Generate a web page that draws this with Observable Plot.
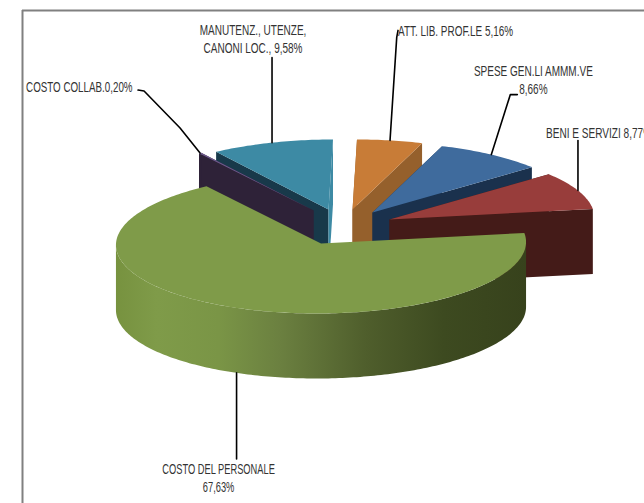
<!DOCTYPE html>
<html>
<head>
<meta charset="utf-8">
<style>
  html, body { margin: 0; padding: 0; background: #fff; }
  svg { display: block; }
</style>
<script src="https://cdn.jsdelivr.net/npm/d3@7"></script>
<script src="https://cdn.jsdelivr.net/npm/@observablehq/plot@0.6"></script>
</head>
<body>
<div id="chart"></div>
<script>
// Cost breakdown, percentage shares, clockwise from twelve o'clock
const names = [
  "ATT. LIB. PROF.LE ",
  "SPESE GEN.LI AMMM.VE\n",
  "BENI E SERVIZI ",
  "COSTO DEL PERSONALE\n",
  "COSTO COLLAB.",
  "MANUTENZ., UTENZE,\nCANONI LOC., "
];
const shares = [5.16, 8.66, 8.77, 67.63, 0.20, 9.58];

// Colours per slice: top face, wall on the closing edge, wall on the opening edge
const topColors = ["#c87c37", "#3f6b9d", "#983d3b", "#7f9b49", "#6f5a8e", "#3d8aa4"];
const endWalls = ["#95602c", "#1a314d", "#441b18", "#37421c", "#2e2238", "#3d8aa4"];
const startWalls = ["#95602c", "#1a314d", "#441b18", "#37421c", "#2e2238", "#18394a"];

// Pie geometry: tilted ellipse with a slight lean, and thickness of the disc
const center = [320.5, 243], rx = 205, ry = 70, lean = 4.5, depth = 65;
// How far each slice is pulled away from the centre
const pull = [[31.5, -34], [51.5, -31], [68.5, -24], [0, 0], [-7.5, -33], [7.5, -34]];

// Label placement relative to the point where each leader meets its slice;
// squeeze narrows the glyphs horizontally to get a condensed face
const labelLayout = [
  {dx: 8, dy: -110, anchor: "start", squeeze: 0.71, leader: [[6.7, -103], [8, -110]]},
  {dx: 42, dy: -75, anchor: "middle", squeeze: 0.715, leader: [[19, -60], [26, -60]]},
  {dx: -32, dy: -58, anchor: "start", squeeze: 0.72, leader: [[0, -50]]},
  {dx: -18, dy: 104, anchor: "middle", squeeze: 0.665, leader: [[0, 86]], onBase: true},
  {dx: -174, dy: -67, anchor: "start", squeeze: 0.7, leader: [[-20, -25], [-56, -62], [-62, -63]]},
  {dx: -19, dy: -104.5, anchor: "middle", squeeze: 0.715, leader: [[0, -85]]}
];

const rad = (deg) => deg * Math.PI / 180;
const percent = (v) => v.toFixed(2).replace(".", ",") + "%";

// Turn the shares into start and end angles
let running = 0;
const slices = shares.map((share, i) => {
  const start = running * 3.6;
  running += share;
  return {i, share, start, end: running * 3.6, apex: [center[0] + pull[i][0], center[1] + pull[i][1]]};
});

const rim = (s, deg, drop = 0) => ({
  x: s.apex[0] + rx * Math.sin(rad(deg)) + lean * Math.cos(rad(deg)),
  y: s.apex[1] - ry * Math.cos(rad(deg)) + drop
});
const arc = (s, a, b, drop = 0) => {
  const n = Math.max(2, Math.ceil(Math.abs(b - a)));
  return d3.range(n + 1).map((k) => rim(s, a + (b - a) * k / n, drop));
};
const apexAt = (s, drop = 0) => ({x: s.apex[0], y: s.apex[1] + drop});
const edgeWall = (s, deg) => [apexAt(s), rim(s, deg), rim(s, deg, depth), apexAt(s, depth)];
const topFace = (s) => [apexAt(s), ...arc(s, s.start, s.end)];

// Only the part of the rim facing the viewer gets an outer wall
const frontFrom = 88.7, frontTo = 268.7;
const outerWall = (s) => {
  const a = Math.max(s.start, frontFrom), b = Math.min(s.end, frontTo);
  return b > a ? [...arc(s, a, b), ...arc(s, b, a, depth)] : null;
};

const poly = (pts, fill) => Plot.line(pts, {x: "x", y: "y", fill, stroke: "none", curve: "linear-closed"});

// Back-to-front painting order
const order = [0, 1, 2, 5, 4, 3];
const faces = order.flatMap((i) => {
  const s = slices[i];
  const out = [];
  if (i !== 3) {
    out.push(poly(edgeWall(s, s.start), startWalls[i]));
    out.push(poly(edgeWall(s, s.end), endWalls[i]));
  }
  const wall = outerWall(s);
  if (wall) out.push(poly(wall, "url(#rimShade)"));
  out.push(poly(topFace(s), topColors[i]));
  return out;
});

// Leaders and labels hang from the middle of each slice's rim
const anchors = slices.map((s) => rim(s, (s.start + s.end) / 2, labelLayout[s.i].onBase ? depth : 0));
const leaders = slices.flatMap((s) => {
  const a = anchors[s.i];
  return [a, ...labelLayout[s.i].leader.map(([dx, dy]) => ({x: a.x + dx, y: a.y + dy}))]
    .map((p) => ({...p, id: s.i}));
});
const labels = slices.map((s) => ({
  text: names[s.i] + percent(s.share),
  x: anchors[s.i].x + labelLayout[s.i].dx,
  y: anchors[s.i].y + labelLayout[s.i].dy,
  anchor: labelLayout[s.i].anchor,
  squeeze: labelLayout[s.i].squeeze
}));

const rimGradient = () => {
  const defs = d3.create("svg:defs");
  const g = defs.append("linearGradient").attr("id", "rimShade");
  [[0, "#77923f"], [0.1, "#7f9b49"], [0.25, "#7a9546"], [0.4, "#6b8040"],
   [0.61, "#4f5e2c"], [0.8, "#3d4a20"], [1, "#37421c"]]
    .forEach(([o, c]) => g.append("stop").attr("offset", o).attr("stop-color", c));
  return defs.node();
};

const chart = Plot.plot({
  width: 644,
  height: 503,
  margin: 0,
  style: {background: "#fff", overflow: "hidden"},
  x: {domain: [0, 644], range: [0, 644], axis: null},
  y: {domain: [0, 503], range: [0, 503], axis: null},
  marks: [
    rimGradient,
    // Chart area border, running off the right and bottom of the page
    Plot.ruleX([22], {y1: 10, y2: 503, stroke: "#808080", strokeWidth: 2}),
    Plot.ruleY([10], {x1: 22, x2: 644, stroke: "#808080", strokeWidth: 2}),
    ...faces,
    Plot.line(leaders, {x: "x", y: "y", z: "id", stroke: "#000", strokeWidth: 1.6, curve: "linear"}),
    ...labels.map((d) =>
      Plot.text([d], {
        x: "x", y: "y", text: "text", textAnchor: d.anchor,
        fontFamily: "'Liberation Sans', sans-serif",
        fontSize: 14, lineHeight: 1.3, fill: "#333"
      }))
  ]
});

// Condense each label about its anchor point
chart.querySelectorAll("text").forEach((t, i) => {
  const base = t.getAttribute("transform") || "";
  t.setAttribute("transform", `${base} scale(${labels[i].squeeze},1)`);
});
document.getElementById("chart").appendChild(chart);
</script>
</body>
</html>
